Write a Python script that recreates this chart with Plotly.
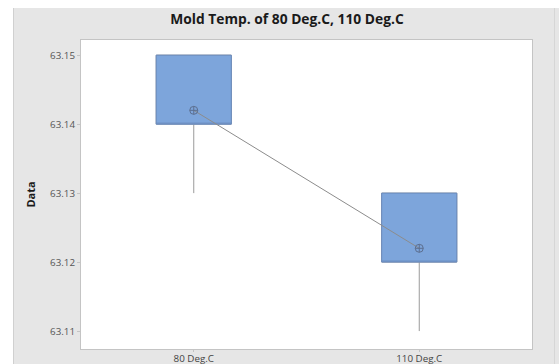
import plotly.graph_objects as go

# ---- data ----
categories = ["80 Deg.C", "110 Deg.C"]
q1_vals = [63.14, 63.12]
median_vals = [63.14, 63.12]
q3_vals = [63.15, 63.13]
lower_vals = [63.13, 63.11]
upper_vals = [63.15, 63.13]
mean_vals = [63.142, 63.122]
y_ticks = [63.11, 63.12, 63.13, 63.14, 63.15]
title_text = "Mold Temp. of 80 Deg.C, 110 Deg.C"

W, H = 559, 364
L, R, T, B = 81, 27, 40, 15
pw, ph = W - L - R, H - T - B

def px_x(p):
    return (p - L) / pw

def px_y(p):
    return (H - B - p) / ph

fig = go.Figure()

# whiskers (gray)
fig.add_trace(go.Box(
    x=categories,
    q1=q1_vals, median=median_vals, q3=q3_vals,
    lowerfence=lower_vals, upperfence=upper_vals,
    width=0.333,
    whiskerwidth=0,
    fillcolor="#7da5db",
    line=dict(color="#9a9a9a", width=1),
    boxpoints=False,
    hoverinfo="skip",
    showlegend=False,
))
# box body (blue outline)
fig.add_trace(go.Box(
    x=categories,
    q1=q1_vals, median=median_vals, q3=q3_vals,
    lowerfence=q1_vals, upperfence=q3_vals,
    width=0.333,
    whiskerwidth=0,
    fillcolor="#7da5db",
    line=dict(color="#6a8bbd", width=1),
    boxpoints=False,
    hoverinfo="skip",
    showlegend=False,
))

fig.add_trace(go.Scatter(
    x=categories, y=mean_vals,
    mode="lines+markers",
    line=dict(color="#8c8c8c", width=1),
    marker=dict(symbol="circle-cross-open", size=8, color="#5c6f90", line=dict(width=1)),
    showlegend=False,
))

fig.update_layout(
    width=W, height=H,
    margin=dict(l=L, r=R, t=T, b=B, autoexpand=False),
    paper_bgcolor="#e6e6e6",
    plot_bgcolor="#ffffff",
    boxmode="overlay",
    font=dict(family="Open Sans", color="#555555", size=10),
    title=dict(
        text=title_text,
        x=px_x(287), xref="paper", xanchor="center",
        y=1 - 19 / H, yref="container", yanchor="middle",
        font=dict(family="Open Sans", size=13.8, color="#1a1a1a", weight="bold"),
    ),
    xaxis=dict(
        type="category",
        range=[-0.5, 1.5],
        showgrid=False, zeroline=False,
        showline=True, linecolor="#c4c4c4", linewidth=1, mirror=True,
        ticks="outside", ticklen=2, tickcolor="#c4c4c4",
        ticklabelstandoff=-2,
        tickfont=dict(size=9.8, color="#444444"),
        automargin=False,
    ),
    yaxis=dict(
        range=[63.1074, 63.1522],
        tickvals=y_ticks,
        ticktext=[f"{v:.2f}" for v in y_ticks],
        showgrid=False, zeroline=False,
        showline=True, linecolor="#c4c4c4", linewidth=1, mirror=True,
        ticks="outside", ticklen=3, tickcolor="#c4c4c4",
        tickfont=dict(size=9.8, color="#555555"),
        title=dict(text="Data", font=dict(size=11, color="#1a1a1a", weight="bold"), standoff=12),
        automargin=False,
    ),
    shapes=[
        dict(type="rect", xref="paper", yref="paper", layer="below",
             x0=px_x(-5), x1=px_x(13), y0=px_y(370), y1=px_y(-5),
             fillcolor="#ffffff", line=dict(width=0)),
        dict(type="rect", xref="paper", yref="paper", layer="below",
             x0=px_x(-5), x1=px_x(565), y0=px_y(8), y1=px_y(-5),
             fillcolor="#ffffff", line=dict(width=0)),
        dict(type="line", xref="paper", yref="paper", layer="below",
             x0=px_x(13.5), x1=px_x(13.5), y0=px_y(364), y1=px_y(8),
             line=dict(color="#d0d0d0", width=1)),
        dict(type="line", xref="paper", yref="paper", layer="below",
             x0=px_x(554.5), x1=px_x(554.5), y0=px_y(364), y1=px_y(8),
             line=dict(color="#d6d6d6", width=1)),
    ],
)

fig.write_html("out.html")
